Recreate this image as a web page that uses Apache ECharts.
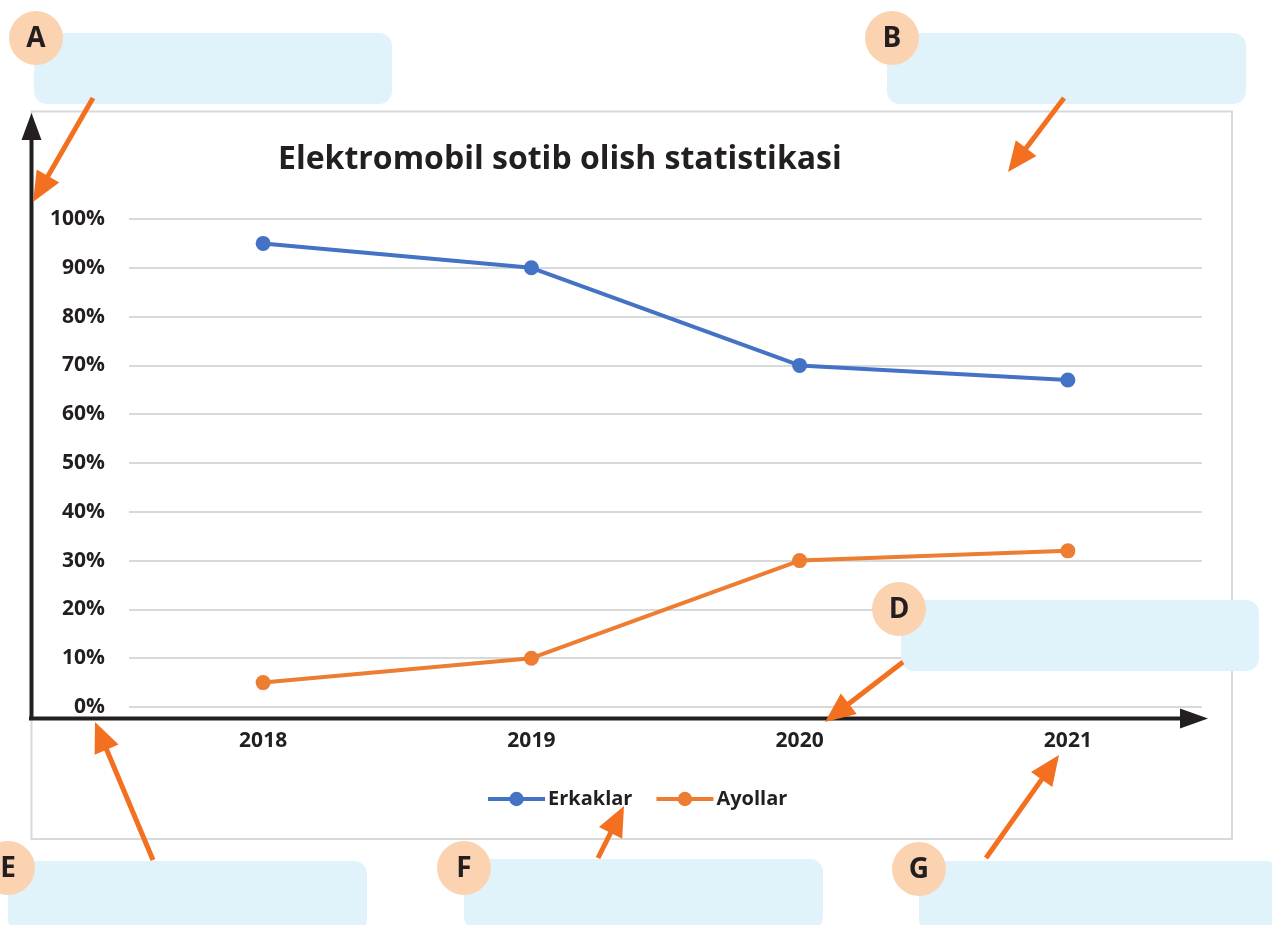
<!DOCTYPE html>
<html>
<head>
<meta charset="utf-8">
<script src="https://cdn.jsdelivr.net/npm/echarts@6/dist/echarts.min.js"></script>
<style>
  html, body { margin: 0; padding: 0; background: #ffffff; }
  #chart { width: 1272px; height: 925px; }
</style>
</head>
<body>
<div id="chart"></div>
<script>
// Purchase shares by year (percent)
const years = ['2018', '2019', '2020', '2021'];
const erkaklar = [95, 90, 70, 67];
const ayollar = [5, 10, 30, 32];
const seriesNames = ['Erkaklar', 'Ayollar'];
const titleText = 'Elektromobil sotib olish statistikasi';
const calloutLetters = ['A', 'B', 'D', 'E', 'F', 'G'];

const FONT = '"Open Sans", "DejaVu Sans", sans-serif';
const INK = '#231f20';
const BOX = '#e0f2fa';
const BADGE = '#fcd3b1';
const ARROW = '#f37021';

// Callout layout: answer box, letter badge and pointer arrow
const callouts = [
  { box: [34, 33, 358, 71],  badge: [36, 38],  arrow: [93, 98, 33, 202] },
  { box: [887, 33, 359, 71], badge: [892, 38], arrow: [1064, 98, 1008, 172] },
  { box: [901, 600, 358, 71], badge: [899, 609], arrow: [903, 662, 825, 722] },
  { box: [8, 861, 359, 71],  badge: [8, 868],  arrow: [153, 860, 95, 722] },
  { box: [464, 859, 359, 71], badge: [464, 868], arrow: [598, 858, 624, 806] },
  { box: [919, 861, 360, 71], badge: [919, 869], arrow: [986, 858, 1059, 755] }
];

function arrowShapes(x1, y1, x2, y2, color, width, headLen, headHalf, z) {
  const dx = x2 - x1, dy = y2 - y1;
  const len = Math.sqrt(dx * dx + dy * dy);
  const ux = dx / len, uy = dy / len;
  const bx = x2 - ux * headLen, by = y2 - uy * headLen;
  const px = -uy, py = ux;
  return [
    { type: 'line', z: z, shape: { x1: x1, y1: y1, x2: bx + ux * 2, y2: by + uy * 2 },
      style: { stroke: color, lineWidth: width } },
    { type: 'polygon', z: z, shape: { points: [[x2, y2], [bx + px * headHalf, by + py * headHalf], [bx - px * headHalf, by - py * headHalf]] },
      style: { fill: color } }
  ];
}

const graphics = [];
// chart frame
graphics.push({ type: 'rect', z: 0, shape: { x: 31.5, y: 111.5, width: 1200.5, height: 727.5 },
  style: { fill: 'none', stroke: '#d9d9d9', lineWidth: 2 } });
// black axis arrows
graphics.push(...arrowShapes(29, 718.5, 1208, 718.5, INK, 4, 28, 10, 50));
graphics.push(...arrowShapes(31.5, 720, 31.5, 113, INK, 4, 27, 10, 50));

callouts.forEach(function (c, i) {
  graphics.push({ type: 'rect', z: 60, shape: { x: c.box[0], y: c.box[1], width: c.box[2], height: c.box[3], r: 13 },
    style: { fill: BOX } });
  graphics.push({ type: 'circle', z: 61, shape: { cx: c.badge[0], cy: c.badge[1], r: 27 },
    style: { fill: BADGE } });
  graphics.push({ type: 'text', z: 62, x: c.badge[0], y: c.badge[1] + 1,
    style: { text: calloutLetters[i], fill: INK, font: 'bold 28px ' + FONT, align: 'center', verticalAlign: 'middle' } });
  graphics.push(...arrowShapes(c.arrow[0], c.arrow[1], c.arrow[2], c.arrow[3], ARROW, 5, 30, 13, 63));
});

const chart = echarts.init(document.getElementById('chart'), null, { renderer: 'canvas' });
chart.setOption({
  backgroundColor: '#ffffff',
  animation: false,
  title: {
    text: titleText,
    left: 273,
    top: 139,
    textStyle: { fontFamily: FONT, fontWeight: 'bold', fontSize: 32, color: INK }
  },
  legend: {
    data: seriesNames,
    left: 486,
    top: 789,
    padding: 0,
    itemWidth: 57,
    itemHeight: 18,
    itemGap: 22,
    lineStyle: { width: 4 },
    textStyle: { fontFamily: FONT, fontWeight: 'bold', fontSize: 20, color: INK, padding: [0, 0, 0, -2] }
  },
  grid: { left: 129, right: 70, top: 219, bottom: 218, containLabel: false },
  xAxis: {
    type: 'category',
    data: years,
    boundaryGap: true,
    axisLine: { show: false },
    axisTick: { show: false },
    axisLabel: { margin: 24, fontFamily: FONT, fontWeight: 'bold', fontSize: 21, color: INK },
    splitLine: { show: false }
  },
  yAxis: {
    type: 'value',
    min: 0,
    max: 100,
    interval: 10,
    axisLine: { show: false },
    axisTick: { show: false },
    axisLabel: { margin: 24, formatter: '{value}%', fontFamily: FONT, fontWeight: 'bold', fontSize: 21, color: INK },
    splitLine: { lineStyle: { color: '#d9d9d9', width: 2 } }
  },
  series: [
    {
      name: seriesNames[0], type: 'line', data: erkaklar,
      symbol: 'circle', symbolSize: 15,
      lineStyle: { color: '#4472c4', width: 4 },
      itemStyle: { color: '#4472c4' }
    },
    {
      name: seriesNames[1], type: 'line', data: ayollar,
      symbol: 'circle', symbolSize: 15,
      lineStyle: { color: '#ed7d31', width: 4 },
      itemStyle: { color: '#ed7d31' }
    }
  ],
  graphic: graphics
});
</script>
</body>
</html>
